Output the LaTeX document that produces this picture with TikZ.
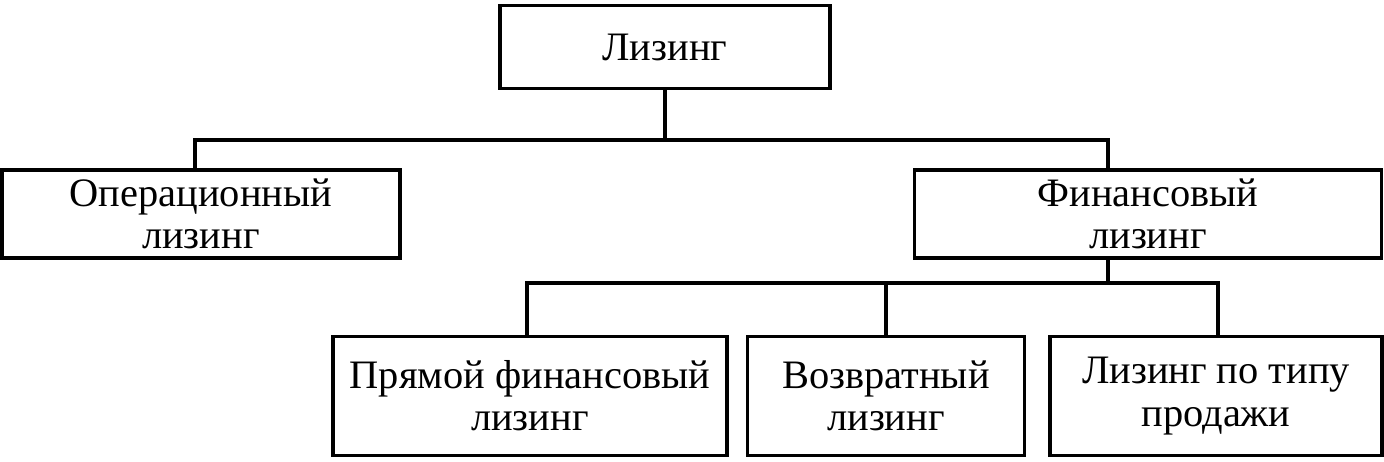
\documentclass[tikz,border=0pt]{standalone}
\usepackage{fontspec}
\setmainfont{Liberation Serif}
\usetikzlibrary{positioning}

\begin{document}
\begin{tikzpicture}[x=0.02cm, y=-0.02cm,
    box/.style={rectangle, draw, line width=2pt, inner sep=0pt, align=center, font=\fontsize{23}{24}\selectfont},
    link/.style={line width=2pt}]

    \useasboundingbox (0,0) rectangle (1384,462);

    % Nodes
    \node[box, minimum width=6.6cm, minimum height=1.66cm] (leasing) at (665,47) {Лизинг};
    \node[box, minimum width=7.96cm, minimum height=1.76cm] (oper) at (201,214) {Операционный\\лизинг};
    \node[box, minimum width=9.34cm, minimum height=1.76cm] (fin) at (1148,214) {Финансовый\\лизинг};
    \node[box, minimum width=7.88cm, minimum height=2.38cm] (direct) at (530,396) {Прямой финансовый\\лизинг};
    \node[box, minimum width=5.54cm, minimum height=2.38cm] (back) at (886,396) {Возвратный\\лизинг};
    \node[box, minimum width=6.64cm, minimum height=2.38cm] (sale) at (1216,396) {Лизинг по типу\\продажи};

    % Connectors
    \coordinate (top) at (665,140);
    \coordinate (mid) at (1108,283);
    \draw[link] (leasing.south) -- (top);
    \draw[link] (oper.north -| 195,0) |- (top) -| (oper.north -| 1108,0);
    \draw[link] (fin.south -| mid) -- (mid);
    \draw[link] (direct.north -| 527,0) |- (mid) -| (sale.north -| 1218,0);
    \draw[link] (back.north) -- (back.north |- mid);
\end{tikzpicture}
\end{document}
